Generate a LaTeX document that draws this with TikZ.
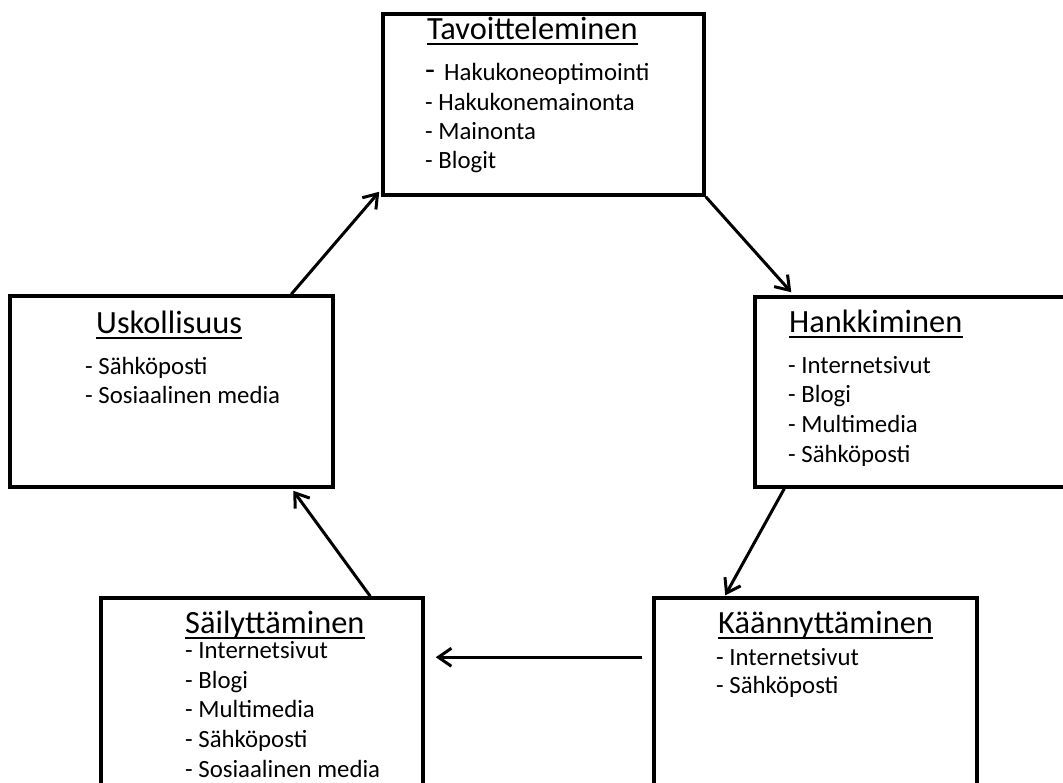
\documentclass[tikz,border=0pt]{standalone}
\usepackage{fontspec}
\setmainfont{Carlito}
\usetikzlibrary{arrows.meta}
\begin{document}
\begin{tikzpicture}[x=1pt,y=-1pt,
  box/.style={draw, line width=3.5pt, rectangle, inner sep=0pt},
  arr/.style={line width=3pt, -{Straight Barb[length=13pt,width=18pt,line width=3pt]}},
  txt/.style={anchor=base west, inner sep=0pt, font=\fontsize{24.8}{25}\selectfont},
  ttl/.style={anchor=base west, inner sep=0pt, font=\fontsize{32.4}{33}\selectfont},
  ul/.style={line width=1.5pt}]
\clip (0,0) rectangle (1063,782);
\fill[white] (0,0) rectangle (1063,782);
% boxes
\node[box, minimum width=321pt, minimum height=181pt] (tav) at (543.5,104.5) {};
\node[box, minimum width=323pt, minimum height=191pt] (usk) at (171.5,391.5) {};
\node[box, minimum width=400pt, minimum height=190pt] (hank) at (955,392) {};
\node[box, minimum width=322pt, minimum height=252pt] (sail) at (262,724) {};
\node[box, minimum width=323pt, minimum height=252pt] (kaan) at (815.5,724) {};
% Tavoitteleminen
\node[ttl] (t1) at (427,39) {Tavoitteleminen};
\draw[ul] ([yshift=-5pt]t1.base west) -- ([yshift=-5pt]t1.base east);
\node[ttl] (t1d) at (425,80) {-};
\node[txt] (t1a) at (444,80) {Hakukoneoptimointi};
\node[txt] (t1b) at (425,110) {- Hakukonemainonta};
\node[txt] (t1c) at (425,139) {- Mainonta};
\node[txt] (t1e) at (425,168) {- Blogit};
% Uskollisuus
\node[ttl] (t2) at (96,333) {Uskollisuus};
\draw[ul] ([yshift=-5pt]t2.base west) -- ([yshift=-5pt]t2.base east);
\node[txt] (t2a) at (85,374) {- Sähköposti};
\node[txt] (t2b) at (85,403) {- Sosiaalinen media};
% Hankkiminen
\node[ttl] (t3) at (789,332) {Hankkiminen};
\draw[ul] ([yshift=-5pt]t3.base west) -- ([yshift=-5pt]t3.base east);
\node[txt] (t3a) at (788,373) {- Internetsivut};
\node[txt] (t3b) at (788,402) {- Blogi};
\node[txt] (t3c) at (788,432) {- Multimedia};
\node[txt] (t3d) at (788,462) {- Sähköposti};
% Säilyttäminen
\node[ttl] (t4) at (185,633) {Säilyttäminen};
\draw[ul] ([yshift=-5pt]t4.base west) -- ([yshift=-5pt]t4.base east);
\node[txt] (t4a) at (185,658) {- Internetsivut};
\node[txt] (t4b) at (185,688) {- Blogi};
\node[txt] (t4c) at (185,717) {- Multimedia};
\node[txt] (t4d) at (185,747) {- Sähköposti};
\node[txt] (t4e) at (185,777) {- Sosiaalinen media};
% Käännyttäminen
\node[ttl] (t5) at (718,633) {Käännyttäminen};
\draw[ul] ([yshift=-5pt]t5.base west) -- ([yshift=-5pt]t5.base east);
\node[txt] (t5a) at (716,665) {- Internetsivut};
\node[txt] (t5b) at (716,693) {- Sähköposti};
% arrows
\draw[arr] ([xshift=283pt]usk.north west) -- ([xshift=-2pt,yshift=5pt]tav.south west);
\draw[arr] (tav.south east) -- ([xshift=38pt,yshift=3pt]hank.north west);
\draw[arr] ([xshift=31pt]hank.south west) -- ([xshift=73pt,yshift=1pt]kaan.north west);
\draw[arr] ([xshift=-10pt,yshift=-61pt]kaan.north west) -- ([xshift=11pt,yshift=-61pt]sail.north east);
\draw[arr] ([xshift=271pt]sail.north west) -- ([xshift=285pt,yshift=-2pt]usk.south west);
\end{tikzpicture}
\end{document}
